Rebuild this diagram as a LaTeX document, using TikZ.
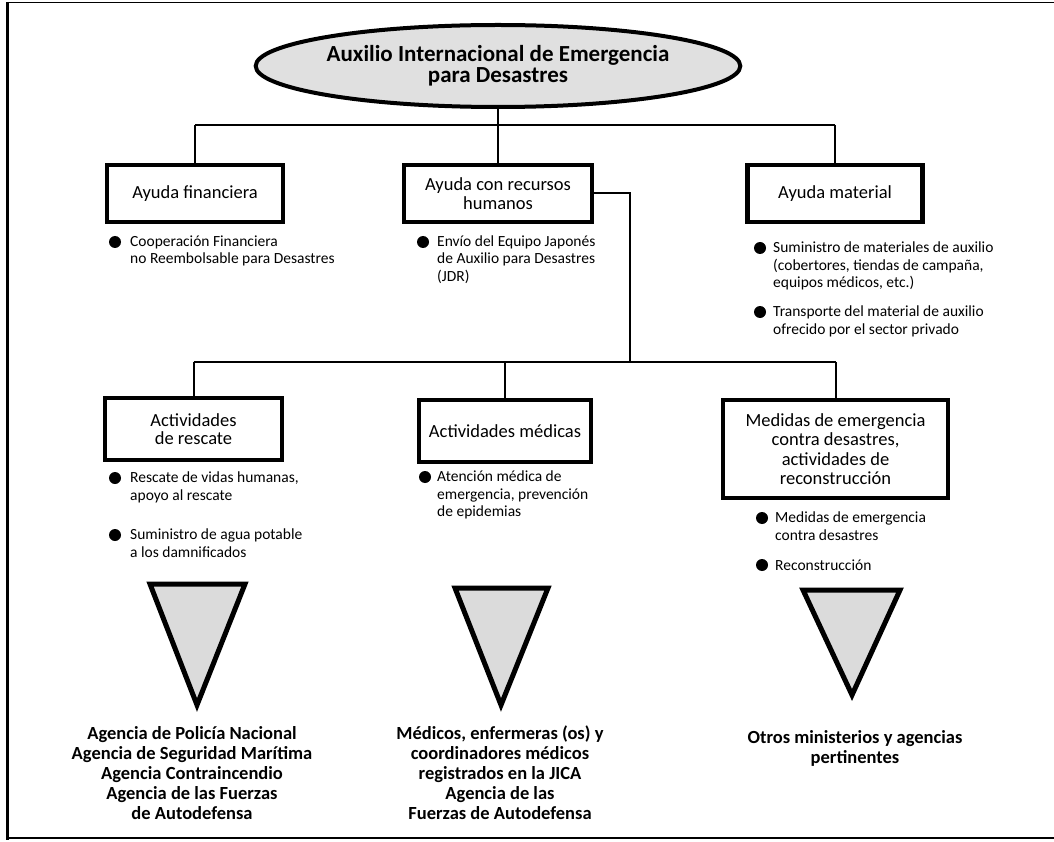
\documentclass[tikz,border=0pt]{standalone}
\usepackage{fontspec}
\setmainfont{Carlito}
\usetikzlibrary{shapes.geometric}

\tikzset{
  conn/.style={line width=2pt},
  box/.style={draw, line width=4.5pt, fill=white, align=center, inner sep=2pt,
    font=\fontsize{18.5}{18.5}\selectfont},
  bul/.style={circle, fill=black, inner sep=0pt, minimum size=12pt},
  itemtxt/.style={anchor=base west, align=left, inner sep=0pt,
    font=\fontsize{15.5}{17.5}\selectfont},
  tri/.style={draw, line width=5pt, fill=black!14, line join=miter},
  agency/.style={anchor=base, align=center, inner sep=0pt,
    font=\bfseries\fontsize{18.5}{20}\selectfont},
}

\begin{document}
\begin{tikzpicture}[x=1pt, y=-1pt]
    \useasboundingbox (0,0) rectangle (1054,842);

    % frame
    \draw[line width=1pt] (7,3) -- (1054,3);
    \draw[line width=3pt] (7,2) -- (7,840);
    \draw[line width=2pt] (7,838) -- (1054,838);

    % title
    \node[ellipse, draw, line width=4pt, fill=black!12, minimum width=386pt,
      minimum height=82pt, inner sep=0pt, align=center,
      font=\bfseries\fontsize{23}{21}\selectfont] (title) at (498,66)
      {Auxilio Internacional de Emergencia\\para Desastres};

    % first level (the base anchor of a text is on its last line)
    \coordinate (bar1) at (0,125);
    \node[box, minimum width=176pt, minimum height=57pt] (fin) at (195,193.5) {Ayuda financiera};
    \node[box, minimum width=188pt, minimum height=57pt] (hum) at (498,193.5) {Ayuda con recursos\\humanos};
    \node[box, minimum width=175pt, minimum height=57pt] (mat) at (835,193.5) {Ayuda material};

    \draw[conn] (title.south) -- (title.south |- bar1);
    \draw[conn] (fin.north |- bar1) -- (mat.north |- bar1);
    \foreach \n in {fin, hum, mat}
        \draw[conn] (\n.north |- bar1) -- (\n.north);

    % items under the first level
    \node[bul] (fin1) at (115,242) {};
    \node[itemtxt] at (130,264) {Cooperación Financiera\\no Reembolsable para Desastres};
    \node[bul] (hum1) at (423,242) {};
    \node[itemtxt] at (437,281.5) {Envío del Equipo Japonés\\de Auxilio para Desastres\\(JDR)};
    \node[bul] (mat1) at (760,248) {};
    \node[itemtxt] at (773,287.5) {Suministro de materiales de auxilio\\(cobertores, tiendas de campaña,\\equipos médicos, etc.)};
    \node[bul] (mat2) at (760,312) {};
    \node[itemtxt] at (773,334) {Transporte del material de auxilio\\ofrecido por el sector privado};

    % second level
    \coordinate (bar2) at (0,362);
    \coordinate (jct) at (630,362);
    \node[box, minimum width=177pt, minimum height=62pt] (res) at (193.5,429) {Actividades\\de rescate};
    \node[box, minimum width=172pt, minimum height=62pt] (med) at (505,431) {Actividades médicas};
    \node[box, minimum width=225pt, minimum height=98pt, font=\fontsize{18.5}{19.5}\selectfont] (rec) at (835.5,449)
      {Medidas de emergencia\\contra desastres,\\actividades de\\reconstrucción};

    \draw[conn] (hum.east) -| (jct);
    \draw[conn] (res.north |- bar2) -- (rec.north |- bar2);
    \foreach \n in {res, med, rec}
        \draw[conn] (\n.north |- bar2) -- (\n.north);

    % items under the second level
    \node[bul] (res1) at (115,478) {};
    \node[itemtxt] at (130,500) {Rescate de vidas humanas,\\apoyo al rescate};
    \node[bul] (res2) at (115,535) {};
    \node[itemtxt] at (130,557) {Suministro de agua potable\\a los damnificados};
    \node[bul] (med1) at (425,477) {};
    \node[itemtxt] at (437,516.5) {Atención médica de\\emergencia, prevención\\de epidemias};
    \node[bul] (rec1) at (762,518) {};
    \node[itemtxt] at (775,540) {Medidas de emergencia\\contra desastres};
    \node[bul] (rec2) at (762,565) {};
    \node[itemtxt] at (775,570) {Reconstrucción};

    % triangles
    \draw[tri] (150,584) -- (245,584) -- (197,705) -- cycle;
    \draw[tri] (455,588) -- (548,588) -- (501,705) -- cycle;
    \draw[tri] (803,590) -- (900,590) -- (852,695) -- cycle;

    % agencies
    \node[agency] (ag1) at (192,819) {Agencia de Policía Nacional\\Agencia de Seguridad Marítima\\Agencia Contraincendio\\Agencia de las Fuerzas\\de Autodefensa};
    \node[agency] (ag2) at (500,819) {Médicos, enfermeras (os) y\\coordinadores médicos\\registrados en la JICA\\Agencia de las\\Fuerzas de Autodefensa};
    \node[agency] (ag3) at (855,763) {Otros ministerios y agencias\\pertinentes};
\end{tikzpicture}
\end{document}
